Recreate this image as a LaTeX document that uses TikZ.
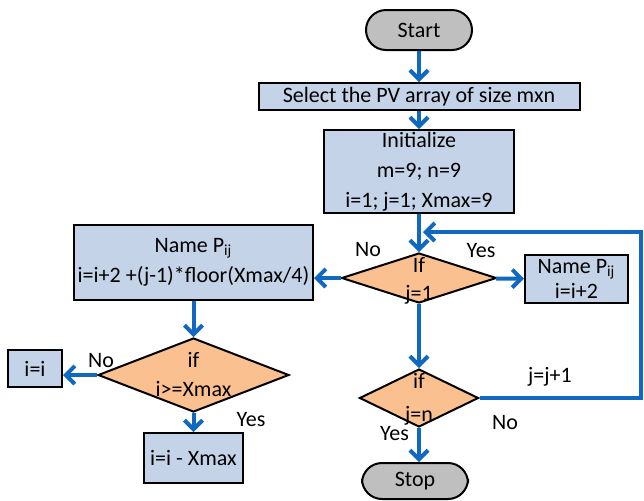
\documentclass[tikz,border=0pt]{standalone}
\usepackage{fontspec}
\setmainfont{Carlito}
\usepackage{xcolor}
\usepackage{tikz}
\usetikzlibrary{shapes.geometric, arrows.meta, positioning, calc}
\definecolor{processblue}{RGB}{197, 211, 232}
\definecolor{decisionorange}{RGB}{250, 192, 143}
\definecolor{terminalgray}{RGB}{191, 191, 191}
\definecolor{flowblue}{RGB}{17, 104, 193}

\tikzset{
    terminal/.style={draw=black, fill=terminalgray, line width=1pt, rounded corners=10pt,
          minimum width=53pt, minimum height=20pt, inner sep=0pt},
    process/.style={draw=black, fill=processblue, line width=1pt, align=center, inner sep=0pt},
    decision/.style={draw=black, fill=decisionorange, line width=1pt, diamond, inner sep=0pt},
    flow/.style={draw=flowblue, line width=2pt, -{Straight Barb[length=4.5pt, width=9pt]}},
    choice/.style={inner sep=0pt}
}

\begin{document}
\begin{tikzpicture}[x=0.5pt, y=-0.5pt, font=\fontsize{11pt}{15pt}\selectfont]
    \useasboundingbox (0,0) rectangle (644,500);

    \node[terminal] (start) at (419,30) {Start};
    \node[process, minimum width=160.5pt, minimum height=13.5pt] (select) at (419,96.5)
          {Select the PV array of size mxn};
    \node[process, minimum width=95pt, minimum height=41.5pt] (init) at (419,171.5)
          {Initialize\\m=9; n=9\\i=1; j=1; Xmax=9};
    \node[decision, minimum width=77.5pt, minimum height=25pt,
          label={[align=center, yshift=-1.5pt, font=\fontsize{11pt}{14pt}\selectfont]center:If\\j=1}]
          (ifj1) at (419,278) {};
    \node[process, minimum width=51.5pt, minimum height=24pt,
          font=\fontsize{11pt}{12.5pt}\selectfont] (namer) at (576.5,279)
          {Name P\textsubscript{ij}\\i=i+2};
    \node[process, minimum width=119.5pt, minimum height=37.5pt] (namel) at (193.5,262.5)
          {Name P\textsubscript{ij}\\i=i+2 +(j-1)*floor(Xmax/4)};
    \node[decision, minimum width=95.5pt, minimum height=37pt,
          label={[align=center, font=\fontsize{11pt}{14.5pt}\selectfont]center:if\\i>=Xmax}]
          (ifx) at (193.5,375) {};
    \node[process, minimum width=27pt, minimum height=18.5pt] (keep) at (35,368.5) {i=i};
    \node[process, minimum width=49.5pt, minimum height=25pt] (wrap) at (193.5,458) {i=i - Xmax};
    \node[decision, minimum width=59.5pt, minimum height=29pt,
          label={[align=center, yshift=-0.75pt, font=\fontsize{11pt}{16.5pt}\selectfont]center:if\\j=n}]
          (ifjn) at (419,398) {};
    \node[terminal, minimum height=18pt] (stop) at (415,481) {Stop};

    \node[choice] (noj1) at (368,250) {No};
    \node[choice] (yesj1) at (481,251) {Yes};
    \node[choice] (nox) at (101,361) {No};
    \node[choice] (yesx) at (251,420) {Yes};
    \node[choice] (yesjn) at (394.5,434) {Yes};
    \node[choice] (nojn) at (505,423) {No};
    \node[choice] (incj) at (550,377) {j=j+1};

    \coordinate (loopR) at (641,232);
    \coordinate (loopin) at (423,232);

    \draw[flow] (start) -- (select);
    \draw[flow] (select) -- (init);
    \draw[flow] (init) -- (ifj1);
    \draw[flow] (ifj1) -- (namer);
    \draw[flow] (ifj1.west) -- (ifj1.west -| namel.east);
    \draw[flow] (ifj1) -- (ifjn);
    \draw[flow] (namel) -- (ifx);
    \draw[flow] (ifx.west) -- (ifx.west -| keep.east);
    \draw[flow] (ifx) -- (wrap);
    \draw[flow] (ifjn.south) -- (ifjn.south |- stop.north);
    \draw[flow] (ifjn.east) -| (loopR) -- (loopin);
\end{tikzpicture}
\end{document}
